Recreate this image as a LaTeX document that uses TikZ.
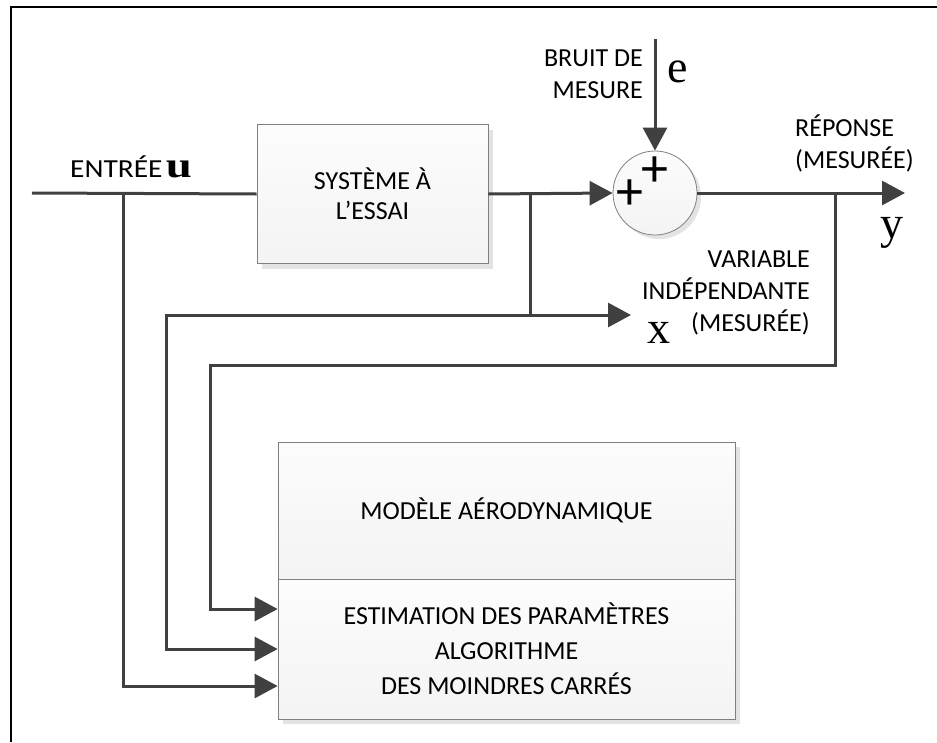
\documentclass[tikz,border=0pt]{standalone}
\usepackage{fontspec}
\setmainfont{Carlito}
\newfontfamily\mathletter{Liberation Serif}
\usetikzlibrary{arrows.meta,shadows,calc}
\definecolor{wire}{HTML}{404040}
\definecolor{rim}{HTML}{7F7F7F}
\tikzset{
  block/.style={draw=rim, line width=0.8pt, rectangle, inner sep=0pt,
    top color=gray!2, bottom color=gray!9, align=center,
    font=\fontsize{26}{30}\selectfont,
    drop shadow={shadow xshift=5pt, shadow yshift=-5pt, fill=gray!22, opacity=1}},
  wireline/.style={draw=wire, line width=3pt},
  flow/.style={wireline, -{Triangle[length=23pt,width=24pt]}},
  lbl/.style={inner sep=0pt, align=right, font=\fontsize{26}{32}\selectfont},
  sig/.style={inner sep=0pt, anchor=base, font=\mathletter\fontsize{46}{46}\selectfont},
  plussign/.style={inner sep=0pt, font=\fontsize{54}{54}\selectfont},
}
\begin{document}
\begin{tikzpicture}[x=1pt, y=-1pt]
\useasboundingbox (0,0) rectangle (937,742);
\fill[white] (0,0) rectangle (937,742);
% frame edges
\draw[line width=2pt, black] (11,742) -- (11,7) -- (937,7);

% blocks
\node[block, minimum width=231pt, minimum height=139pt] (sys) at (372.5,194) {SYSTÈME À\\L’ESSAI};
\node[circle, draw=rim, line width=0.8pt, minimum size=84pt, inner sep=0pt,
  top color=gray!2, bottom color=gray!9,
  drop shadow={shadow xshift=4pt, shadow yshift=-4pt, fill=gray!22, opacity=1}] (sum) at (655,193) {};
\node[plussign] (pa) at (630,195) {+};
\node[plussign] (pb) at (655,172) {+};

\node[block, minimum width=457pt, minimum height=277pt] (frame) at (506.5,580.5) {};
\node[block, minimum width=457pt, minimum height=137pt, drop shadow={opacity=0}] (model) at (506.5,510.5) {MODÈLE AÉRODYNAMIQUE};
\node[block, minimum width=457pt, minimum height=140pt, drop shadow={opacity=0},
  font=\fontsize{26}{35}\selectfont] (est) at (506.5,649) {ESTIMATION DES PARAMÈTRES\\ALGORITHME\\DES MOINDRES CARRÉS};

% signal end points and branch points
\coordinate (in) at (32,193);
\coordinate (noise) at (655,39);
\coordinate (out) at (905,193);
\coordinate (ju) at (123,193);
\coordinate (jx) at (530,193);
\coordinate (jy) at (835,193);
\coordinate (xb) at (530,315);
\coordinate (xend) at (631,315);
\coordinate (xl) at (166,315);
\coordinate (yl) at (210,365);

% connectors
\draw[wireline] (in) -- (sys.west);
\draw[flow] (sys.east) -- (sum.west);
\draw[flow] (noise) -- (sum.north);
\draw[flow] (sum.east) -- (out);
\draw[flow] (jx) -- (xb) -- (xend);
\draw[flow] (xb) -- (xl) |- (est.west);
\draw[flow] (jy) |- (yl) |- ([yshift=40pt]est.west);
\draw[flow] (ju) |- ([yshift=-37pt]est.west);

% labels
\node[lbl, anchor=base west, xscale=1.13] (entree) at (70,177) {ENTRÉE};
\node[sig, font=\mathletter\bfseries\fontsize{36}{36}\selectfont, xscale=1.3] (u) at (179,177) {u};
\node[lbl, anchor=east] (bruit) at (643,74) {BRUIT DE\\MESURE};
\node[sig] (e) at (678,82) {e};
\node[lbl, anchor=west, align=left] (rep) at (795,143) {RÉPONSE\\(MESURÉE)};
\node[sig] (y) at (892,238) {y};
\node[lbl, anchor=east] (var) at (810,293) {VARIABLE\\INDÉPENDANTE\\(MESURÉE)};
\node[sig] (x) at (659,343) {x};
\end{tikzpicture}
\end{document}
